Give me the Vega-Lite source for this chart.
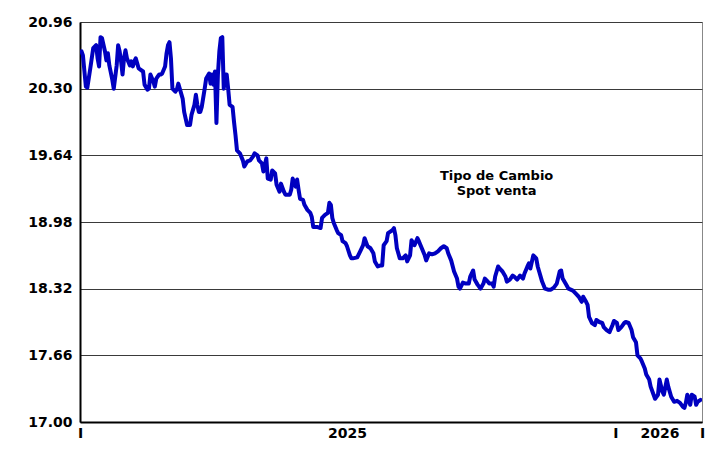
{
  "$schema": "https://vega.github.io/schema/vega-lite/v6.json",
  "width": 622,
  "height": 400,
  "autosize": {"type": "none"},
  "padding": {"left": 80, "top": 22, "right": 10, "bottom": 44},
  "background": "white",
  "config": {
    "view": {"stroke": "#888888", "strokeWidth": 1},
    "axis": {"labelFont": "DejaVu Sans", "labelFontWeight": "bold", "labelFontSize": 14, "labelColor": "#000000"}
  },
  "layer": [
    {
      "data": {"values": [
        {"d":"2025-01-02","v":20.67},{"d":"2025-01-03","v":20.63},{"d":"2025-01-05","v":20.32},{"d":"2025-01-06","v":20.31},{"d":"2025-01-08","v":20.50},{"d":"2025-01-10","v":20.70},{"d":"2025-01-12","v":20.73},{"d":"2025-01-13","v":20.60},{"d":"2025-01-14","v":20.52},{"d":"2025-01-15","v":20.81},{"d":"2025-01-16","v":20.80},{"d":"2025-01-18","v":20.67},{"d":"2025-01-19","v":20.58},{"d":"2025-01-20","v":20.65},{"d":"2025-01-21","v":20.53},{"d":"2025-01-23","v":20.39},{"d":"2025-01-24","v":20.30},{"d":"2025-01-26","v":20.53},{"d":"2025-01-27","v":20.73},{"d":"2025-01-28","v":20.67},{"d":"2025-01-29","v":20.57},{"d":"2025-01-30","v":20.44},{"d":"2025-01-31","v":20.60},
        {"d":"2025-02-01","v":20.68},{"d":"2025-02-02","v":20.60},{"d":"2025-02-04","v":20.53},{"d":"2025-02-05","v":20.57},{"d":"2025-02-06","v":20.52},{"d":"2025-02-07","v":20.57},{"d":"2025-02-08","v":20.60},{"d":"2025-02-09","v":20.55},{"d":"2025-02-10","v":20.50},{"d":"2025-02-12","v":20.48},{"d":"2025-02-13","v":20.47},{"d":"2025-02-14","v":20.34},{"d":"2025-02-16","v":20.29},{"d":"2025-02-17","v":20.30},{"d":"2025-02-18","v":20.44},{"d":"2025-02-20","v":20.37},{"d":"2025-02-21","v":20.32},{"d":"2025-02-22","v":20.40},{"d":"2025-02-23","v":20.42},{"d":"2025-02-24","v":20.44},{"d":"2025-02-25","v":20.44},{"d":"2025-02-26","v":20.45},{"d":"2025-02-28","v":20.52},
        {"d":"2025-03-01","v":20.65},{"d":"2025-03-02","v":20.73},{"d":"2025-03-03","v":20.76},{"d":"2025-03-04","v":20.60},{"d":"2025-03-05","v":20.30},{"d":"2025-03-07","v":20.27},{"d":"2025-03-08","v":20.29},{"d":"2025-03-09","v":20.35},{"d":"2025-03-10","v":20.30},{"d":"2025-03-12","v":20.20},{"d":"2025-03-13","v":20.07},{"d":"2025-03-15","v":19.94},{"d":"2025-03-17","v":19.94},{"d":"2025-03-18","v":20.04},{"d":"2025-03-20","v":20.14},{"d":"2025-03-21","v":20.24},{"d":"2025-03-22","v":20.14},{"d":"2025-03-23","v":20.07},{"d":"2025-03-24","v":20.07},{"d":"2025-03-25","v":20.12},{"d":"2025-03-27","v":20.30},{"d":"2025-03-28","v":20.40},{"d":"2025-03-30","v":20.45},{"d":"2025-03-31","v":20.35},
        {"d":"2025-04-01","v":20.44},{"d":"2025-04-02","v":20.34},{"d":"2025-04-03","v":20.47},{"d":"2025-04-04","v":19.96},{"d":"2025-04-05","v":20.44},{"d":"2025-04-06","v":20.67},{"d":"2025-04-07","v":20.80},{"d":"2025-04-08","v":20.81},{"d":"2025-04-09","v":20.30},{"d":"2025-04-10","v":20.44},{"d":"2025-04-11","v":20.44},{"d":"2025-04-12","v":20.30},{"d":"2025-04-13","v":20.14},{"d":"2025-04-15","v":20.12},{"d":"2025-04-16","v":19.97},{"d":"2025-04-17","v":19.84},{"d":"2025-04-18","v":19.69},{"d":"2025-04-20","v":19.66},{"d":"2025-04-22","v":19.59},{"d":"2025-04-23","v":19.53},{"d":"2025-04-25","v":19.58},{"d":"2025-04-27","v":19.59},{"d":"2025-04-29","v":19.63},{"d":"2025-04-30","v":19.66},
        {"d":"2025-05-02","v":19.64},{"d":"2025-05-03","v":19.59},{"d":"2025-05-05","v":19.56},{"d":"2025-05-06","v":19.48},{"d":"2025-05-08","v":19.61},{"d":"2025-05-09","v":19.41},{"d":"2025-05-11","v":19.40},{"d":"2025-05-12","v":19.49},{"d":"2025-05-14","v":19.46},{"d":"2025-05-15","v":19.35},{"d":"2025-05-17","v":19.28},{"d":"2025-05-18","v":19.36},{"d":"2025-05-20","v":19.28},{"d":"2025-05-21","v":19.25},{"d":"2025-05-24","v":19.25},{"d":"2025-05-25","v":19.30},{"d":"2025-05-26","v":19.41},{"d":"2025-05-28","v":19.33},{"d":"2025-05-29","v":19.40},{"d":"2025-05-30","v":19.30},{"d":"2025-05-31","v":19.21},
        {"d":"2025-06-02","v":19.20},{"d":"2025-06-03","v":19.15},{"d":"2025-06-05","v":19.10},{"d":"2025-06-07","v":19.07},{"d":"2025-06-08","v":19.03},{"d":"2025-06-09","v":18.93},{"d":"2025-06-11","v":18.93},{"d":"2025-06-12","v":18.93},{"d":"2025-06-14","v":18.92},{"d":"2025-06-15","v":19.02},{"d":"2025-06-17","v":19.05},{"d":"2025-06-19","v":19.07},{"d":"2025-06-20","v":19.17},{"d":"2025-06-21","v":19.15},{"d":"2025-06-22","v":19.02},{"d":"2025-06-23","v":18.97},{"d":"2025-06-25","v":18.90},{"d":"2025-06-26","v":18.87},{"d":"2025-06-28","v":18.85},{"d":"2025-06-29","v":18.79},
        {"d":"2025-07-01","v":18.77},{"d":"2025-07-02","v":18.74},{"d":"2025-07-04","v":18.65},{"d":"2025-07-05","v":18.62},{"d":"2025-07-06","v":18.62},{"d":"2025-07-09","v":18.63},{"d":"2025-07-11","v":18.69},{"d":"2025-07-13","v":18.75},{"d":"2025-07-14","v":18.82},{"d":"2025-07-16","v":18.74},{"d":"2025-07-18","v":18.72},{"d":"2025-07-20","v":18.67},{"d":"2025-07-21","v":18.59},{"d":"2025-07-23","v":18.54},{"d":"2025-07-25","v":18.55},{"d":"2025-07-26","v":18.55},{"d":"2025-07-27","v":18.75},{"d":"2025-07-29","v":18.79},{"d":"2025-07-30","v":18.87},
        {"d":"2025-08-02","v":18.90},{"d":"2025-08-03","v":18.92},{"d":"2025-08-04","v":18.85},{"d":"2025-08-05","v":18.72},{"d":"2025-08-07","v":18.62},{"d":"2025-08-09","v":18.62},{"d":"2025-08-11","v":18.65},{"d":"2025-08-12","v":18.59},{"d":"2025-08-14","v":18.65},{"d":"2025-08-15","v":18.80},{"d":"2025-08-17","v":18.75},{"d":"2025-08-19","v":18.82},{"d":"2025-08-20","v":18.79},{"d":"2025-08-22","v":18.72},{"d":"2025-08-24","v":18.65},{"d":"2025-08-25","v":18.60},{"d":"2025-08-27","v":18.67},{"d":"2025-08-29","v":18.66},{"d":"2025-08-31","v":18.67},
        {"d":"2025-09-02","v":18.69},{"d":"2025-09-04","v":18.72},{"d":"2025-09-06","v":18.74},{"d":"2025-09-08","v":18.72},{"d":"2025-09-09","v":18.67},{"d":"2025-09-11","v":18.60},{"d":"2025-09-13","v":18.49},{"d":"2025-09-15","v":18.42},{"d":"2025-09-16","v":18.34},{"d":"2025-09-17","v":18.32},{"d":"2025-09-19","v":18.38},{"d":"2025-09-21","v":18.37},{"d":"2025-09-23","v":18.37},{"d":"2025-09-24","v":18.44},{"d":"2025-09-26","v":18.50},{"d":"2025-09-27","v":18.41},{"d":"2025-09-29","v":18.36},
        {"d":"2025-10-01","v":18.32},{"d":"2025-10-03","v":18.37},{"d":"2025-10-04","v":18.42},{"d":"2025-10-06","v":18.39},{"d":"2025-10-07","v":18.37},{"d":"2025-10-09","v":18.37},{"d":"2025-10-10","v":18.34},{"d":"2025-10-11","v":18.44},{"d":"2025-10-13","v":18.54},{"d":"2025-10-14","v":18.52},{"d":"2025-10-16","v":18.49},{"d":"2025-10-18","v":18.44},{"d":"2025-10-19","v":18.39},{"d":"2025-10-21","v":18.41},{"d":"2025-10-23","v":18.45},{"d":"2025-10-24","v":18.44},{"d":"2025-10-26","v":18.41},{"d":"2025-10-28","v":18.45},{"d":"2025-10-30","v":18.42},{"d":"2025-10-31","v":18.47},
        {"d":"2025-11-02","v":18.54},{"d":"2025-11-03","v":18.57},{"d":"2025-11-04","v":18.52},{"d":"2025-11-06","v":18.65},{"d":"2025-11-08","v":18.62},{"d":"2025-11-09","v":18.54},{"d":"2025-11-10","v":18.49},{"d":"2025-11-12","v":18.39},{"d":"2025-11-14","v":18.32},{"d":"2025-11-16","v":18.31},{"d":"2025-11-18","v":18.31},{"d":"2025-11-20","v":18.33},{"d":"2025-11-22","v":18.37},{"d":"2025-11-24","v":18.49},{"d":"2025-11-25","v":18.50},{"d":"2025-11-26","v":18.42},{"d":"2025-11-28","v":18.37},{"d":"2025-11-30","v":18.32},
        {"d":"2025-12-03","v":18.30},{"d":"2025-12-05","v":18.27},{"d":"2025-12-07","v":18.24},{"d":"2025-12-09","v":18.19},{"d":"2025-12-10","v":18.24},{"d":"2025-12-12","v":18.19},{"d":"2025-12-13","v":18.16},{"d":"2025-12-14","v":18.04},{"d":"2025-12-16","v":17.98},{"d":"2025-12-18","v":17.96},{"d":"2025-12-19","v":18.01},{"d":"2025-12-21","v":17.99},{"d":"2025-12-23","v":17.98},{"d":"2025-12-24","v":17.94},{"d":"2025-12-26","v":17.91},{"d":"2025-12-28","v":17.89},{"d":"2025-12-30","v":17.96},{"d":"2025-12-31","v":18.00},
        {"d":"2026-01-02","v":17.98},{"d":"2026-01-03","v":17.91},{"d":"2026-01-05","v":17.94},{"d":"2026-01-07","v":17.98},{"d":"2026-01-08","v":17.99},{"d":"2026-01-10","v":17.98},{"d":"2026-01-12","v":17.91},{"d":"2026-01-13","v":17.84},{"d":"2026-01-15","v":17.79},{"d":"2026-01-16","v":17.66},{"d":"2026-01-18","v":17.63},{"d":"2026-01-19","v":17.60},{"d":"2026-01-21","v":17.53},{"d":"2026-01-22","v":17.47},{"d":"2026-01-24","v":17.42},{"d":"2026-01-25","v":17.35},{"d":"2026-01-27","v":17.27},{"d":"2026-01-28","v":17.23},{"d":"2026-01-30","v":17.27},{"d":"2026-01-31","v":17.42},
        {"d":"2026-02-02","v":17.30},{"d":"2026-02-03","v":17.27},{"d":"2026-02-05","v":17.42},{"d":"2026-02-06","v":17.35},{"d":"2026-02-08","v":17.25},{"d":"2026-02-10","v":17.20},{"d":"2026-02-12","v":17.21},{"d":"2026-02-14","v":17.19},{"d":"2026-02-16","v":17.15},{"d":"2026-02-17","v":17.14},{"d":"2026-02-18","v":17.19},{"d":"2026-02-19","v":17.27},{"d":"2026-02-21","v":17.17},{"d":"2026-02-22","v":17.27},{"d":"2026-02-24","v":17.25},{"d":"2026-02-25","v":17.17},{"d":"2026-02-26","v":17.20},{"d":"2026-02-28","v":17.22}
      ]},
      "mark": {"type": "line", "color": "#0000C0", "strokeWidth": 4, "strokeJoin": "round", "strokeCap": "round", "clip": true},
      "encoding": {
        "x": {
          "field": "d", "type": "temporal", "title": null,
          "scale": {"type": "utc", "domain": [{"year": 2025, "month": 1, "date": 1, "utc": true}, {"year": 2026, "month": 3, "date": 1, "utc": true}]},
          "axis": {
            "values": [
              {"year": 2025, "month": 1, "date": 1, "utc": true},
              {"year": 2025, "month": 7, "date": 2, "utc": true},
              {"year": 2026, "month": 1, "date": 1, "utc": true},
              {"year": 2026, "month": 1, "date": 31, "utc": true},
              {"year": 2026, "month": 3, "date": 1, "utc": true}
            ],
            "labelExpr": "utcdate(datum.value) == 1 ? 'I' : utcFormat(datum.value, '%Y')",
            "grid": false, "ticks": false, "domainColor": "#000000", "domainWidth": 2,
            "labelPadding": 4, "labelOverlap": false, "labelBound": false, "labelFlush": false
          }
        },
        "y": {
          "field": "v", "type": "quantitative", "title": null,
          "scale": {"domain": [17, 20.96], "nice": false, "zero": false},
          "axis": {
            "values": [17, 17.66, 18.32, 18.98, 19.64, 20.30, 20.96],
            "format": ".2f", "ticks": false, "labelPadding": 8,
            "grid": true, "gridColor": "#3a3a3a", "gridWidth": 1.2,
            "domainColor": "#000000", "domainWidth": 2
          }
        }
      }
    },
    {
      "data": {"values": [{"d": "2025-10-12", "v": 19.44, "label": "Tipo de Cambio\nSpot venta"}]},
      "mark": {"type": "text", "font": "DejaVu Sans", "fontWeight": "bold", "fontSize": 13, "align": "center", "baseline": "middle", "lineBreak": "\n", "lineHeight": 15, "color": "#000000"},
      "encoding": {
        "x": {"field": "d", "type": "temporal"},
        "y": {"field": "v", "type": "quantitative"},
        "text": {"field": "label"}
      }
    }
  ]
}
